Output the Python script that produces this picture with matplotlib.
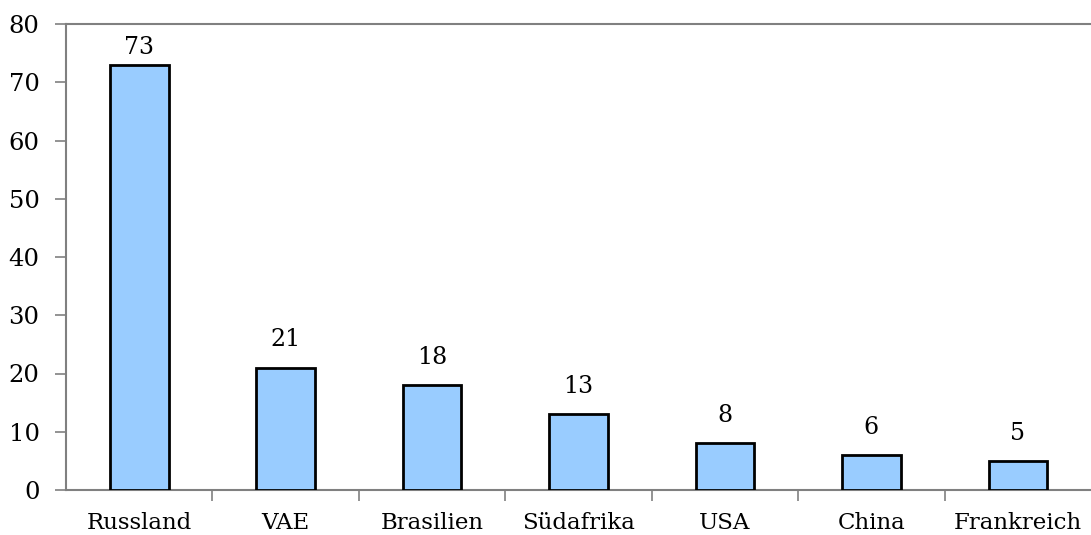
import matplotlib
matplotlib.use("Agg")
import matplotlib.pyplot as plt
import numpy as np

countries = ["Russland", "VAE", "Brasilien", "Südafrika", "USA", "China", "Frankreich"]
values = [73, 21, 18, 13, 8, 6, 5]

plt.rcParams["font.family"] = ["DejaVu Serif"]

fig = plt.figure(figsize=(10.91, 5.35), dpi=100)
ax = fig.add_axes([66 / 1091, 1 - 490 / 535, (1091 - 66) / 1091, (490 - 24) / 535])

x = np.arange(len(countries))
ax.bar(x, values, width=0.4, color="#99CCFF", edgecolor="black", linewidth=2, zorder=3)
for xi, v in zip(x, values):
    # top label sits tighter under the frame
    off = 1.0 if v > 70 else 2.8
    ax.text(xi, v + off, str(v), ha="center", va="bottom", fontsize=17)

ax.set_xlim(-0.5, len(countries) - 0.5)
ax.set_ylim(0, 80)
ax.set_yticks(range(0, 81, 10))
ax.set_xticks(x)
ax.set_xticklabels(countries)
ax.set_xticks(np.arange(0.5, len(countries) - 0.5, 1), minor=True)
ax.tick_params(axis="x", which="major", length=0, pad=16, labelsize=16.5)
ax.tick_params(axis="x", which="minor", length=8, color="#808080", width=1.2)
ax.tick_params(axis="y", length=8, color="#808080", width=1.2, labelsize=17.5, pad=11)

for side in ["left", "bottom", "top"]:
    ax.spines[side].set_color("#808080")
    ax.spines[side].set_linewidth(1.5)
ax.spines["right"].set_visible(False)

fig.savefig("out.png", dpi=100)
